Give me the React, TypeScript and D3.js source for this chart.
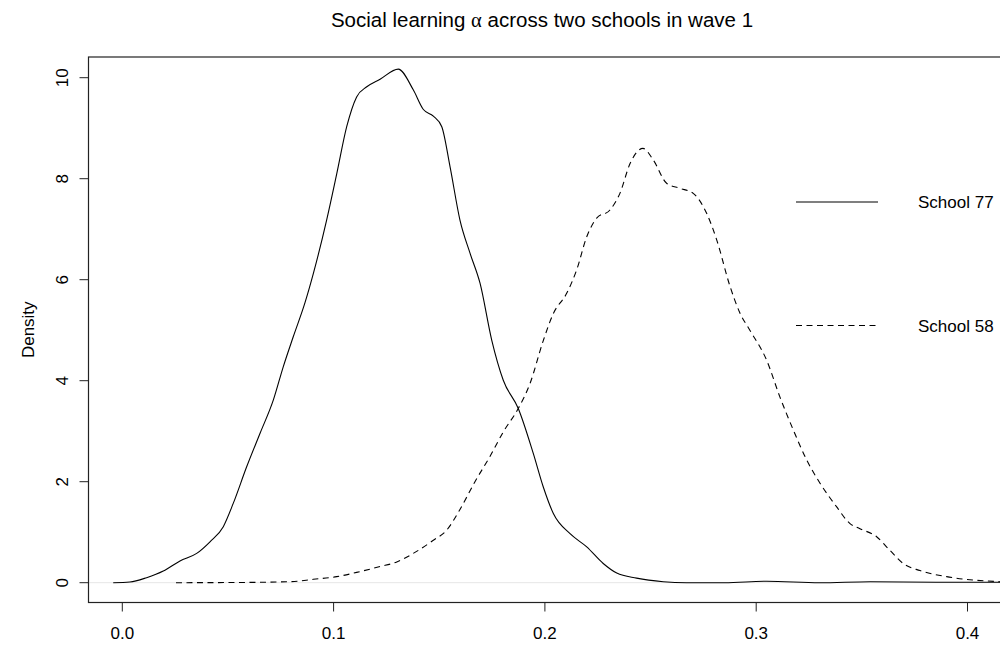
import * as d3 from "d3";
import { useEffect, useRef } from "react";

// density estimate, School 77
const school77X = [-0.0043, 0.0036, 0.0115, 0.0194, 0.0273, 0.0352, 0.0415, 0.0478, 0.0525, 0.0589, 0.0652, 0.0715, 0.0762, 0.0809, 0.0865, 0.0904, 0.0967, 0.1015, 0.1062, 0.1109, 0.1157, 0.122, 0.1306, 0.1377, 0.1425, 0.1472, 0.1512, 0.1551, 0.1598, 0.1646, 0.1693, 0.1748, 0.1803, 0.1874, 0.1945, 0.1992, 0.204, 0.2119, 0.2198, 0.2276, 0.234, 0.2434, 0.256, 0.267, 0.285, 0.305, 0.33, 0.354, 0.385, 0.415, 0.43];
const school77Y = [0, 0.014, 0.1, 0.23, 0.43, 0.58, 0.81, 1.11, 1.57, 2.3, 2.96, 3.62, 4.28, 4.87, 5.55, 6.12, 7.18, 8.1, 9.03, 9.62, 9.82, 9.97, 10.17, 9.76, 9.37, 9.24, 9.03, 8.24, 7.18, 6.52, 5.93, 4.81, 4.01, 3.45, 2.56, 1.9, 1.37, 0.97, 0.71, 0.38, 0.19, 0.09, 0.02, 0.0, 0.0, 0.03, 0.0, 0.02, 0.01, 0.01, 0.01];

// density estimate, School 58
const school58X = [0.0254, 0.05, 0.0794, 0.0904, 0.1015, 0.1125, 0.122, 0.1299, 0.1377, 0.1472, 0.1535, 0.1598, 0.1669, 0.174, 0.1805, 0.1874, 0.193, 0.1992, 0.204, 0.2103, 0.215, 0.2198, 0.2245, 0.2308, 0.2355, 0.2403, 0.2464, 0.2513, 0.2576, 0.2639, 0.2702, 0.2766, 0.2813, 0.2876, 0.2923, 0.297, 0.305, 0.3112, 0.3176, 0.3239, 0.3302, 0.3381, 0.3444, 0.3491, 0.357, 0.3633, 0.3696, 0.3775, 0.3901, 0.4154, 0.43];
const school58Y = [0, 0.003, 0.02, 0.067, 0.12, 0.22, 0.32, 0.41, 0.58, 0.84, 1.04, 1.45, 2.0, 2.5, 3.0, 3.45, 3.95, 4.79, 5.33, 5.73, 6.19, 6.85, 7.22, 7.38, 7.71, 8.3, 8.6, 8.37, 7.91, 7.81, 7.71, 7.31, 6.79, 5.87, 5.34, 5.0, 4.4, 3.68, 3.02, 2.43, 1.97, 1.5, 1.17, 1.07, 0.91, 0.64, 0.38, 0.24, 0.12, 0.02, 0.005];

const xTicks = [0.0, 0.1, 0.2, 0.3, 0.4];
const yTicks = [0, 2, 4, 6, 8, 10];
const legendLabels = ["School 77", "School 58"];

const W = 1000;
const H = 647;
const font = "'Liberation Sans', Arial, Helvetica, sans-serif";

const App = () => {
    const ref = useRef<SVGSVGElement>(null);

    useEffect(() => {
        const svg = d3.select(ref.current);
        svg.selectAll("*").remove();

        // plot region (right edge is cut off in the original)
        const box = { left: 88.5, top: 57, right: 1010, bottom: 602.5 };

        const x = d3.scaleLinear().domain([0, 0.4]).range([122.3, 967.5]);
        const y = d3.scaleLinear().domain([0, 10]).range([582.7, 77.7]);

        // faint zero line
        svg.append("line")
            .attr("x1", box.left).attr("x2", box.right)
            .attr("y1", y(0)).attr("y2", y(0))
            .attr("stroke", "#e6e6e6").attr("stroke-width", 1);

        const line = d3.line<[number, number]>()
            .x(d => x(d[0]))
            .y(d => y(d[1]))
            .curve(d3.curveMonotoneX);

        const d77 = school77X.map((v, i) => [v, school77Y[i]] as [number, number]);
        const d58 = school58X.map((v, i) => [v, school58Y[i]] as [number, number]);

        svg.append("path")
            .attr("d", line(d77))
            .attr("fill", "none")
            .attr("stroke", "#000")
            .attr("stroke-width", 1.1);

        svg.append("path")
            .attr("d", line(d58))
            .attr("fill", "none")
            .attr("stroke", "#000")
            .attr("stroke-width", 1.1)
            .attr("stroke-dasharray", "6,4.5");

        // box
        svg.append("rect")
            .attr("x", box.left).attr("y", box.top)
            .attr("width", box.right - box.left)
            .attr("height", box.bottom - box.top)
            .attr("fill", "none")
            .attr("stroke", "#222").attr("stroke-width", 1.2);

        // x axis
        const gx = svg.append("g");
        gx.selectAll("line.tick")
            .data(xTicks)
            .enter()
            .append("line")
            .attr("x1", d => x(d)).attr("x2", d => x(d))
            .attr("y1", box.bottom).attr("y2", box.bottom + 9)
            .attr("stroke", "#222");
        gx.selectAll("text")
            .data(xTicks)
            .enter()
            .append("text")
            .attr("x", d => x(d))
            .attr("y", 639)
            .attr("text-anchor", "middle")
            .style("font-family", font)
            .style("font-size", "17px")
            .text(d => d3.format(".1f")(d));

        // y axis
        const gy = svg.append("g");
        gy.append("line")
            .attr("x1", box.left).attr("x2", box.left)
            .attr("y1", y(0)).attr("y2", y(10))
            .attr("stroke", "#222");
        gy.selectAll("line.tick")
            .data(yTicks)
            .enter()
            .append("line")
            .attr("x1", box.left - 9).attr("x2", box.left)
            .attr("y1", d => y(d)).attr("y2", d => y(d))
            .attr("stroke", "#222");
        gy.selectAll("text")
            .data(yTicks)
            .enter()
            .append("text")
            .attr("transform", d => `translate(68, ${y(d)}) rotate(-90)`)
            .attr("text-anchor", "middle")
            .style("font-family", font)
            .style("font-size", "17px")
            .text(d => String(d));

        svg.append("text")
            .attr("transform", `translate(34, ${(box.top + box.bottom) / 2}) rotate(-90)`)
            .attr("text-anchor", "middle")
            .style("font-family", font)
            .style("font-size", "17px")
            .text("Density");

        // title
        const title = svg.append("text")
            .attr("x", 542)
            .attr("y", 27)
            .attr("text-anchor", "middle")
            .style("font-family", font)
            .style("font-size", "20.5px");
        title.append("tspan").text("Social learning ");
        title.append("tspan").style("font-family", "'Liberation Serif', serif").text("\u03b1");
        title.append("tspan").text(" across two schools in wave 1");

        // legend
        const legendY = [202, 325.5];
        legendLabels.forEach((lab, i) => {
            svg.append("line")
                .attr("x1", 796).attr("x2", 878)
                .attr("y1", legendY[i]).attr("y2", legendY[i])
                .attr("stroke", "#000")
                .attr("stroke-width", 1.1)
                .attr("stroke-dasharray", i === 1 ? "6,4.5" : null);
            svg.append("text")
                .attr("x", 918)
                .attr("y", legendY[i] + 6)
                .style("font-family", font)
                .style("font-size", "17px")
                .text(lab);
        });
    }, []);

    return (
        <svg ref={ref} width={W} height={H} style={{ display: "block", position: "absolute", left: 0, top: 0, background: "#fff" }}></svg>
    );
};

export default App;
